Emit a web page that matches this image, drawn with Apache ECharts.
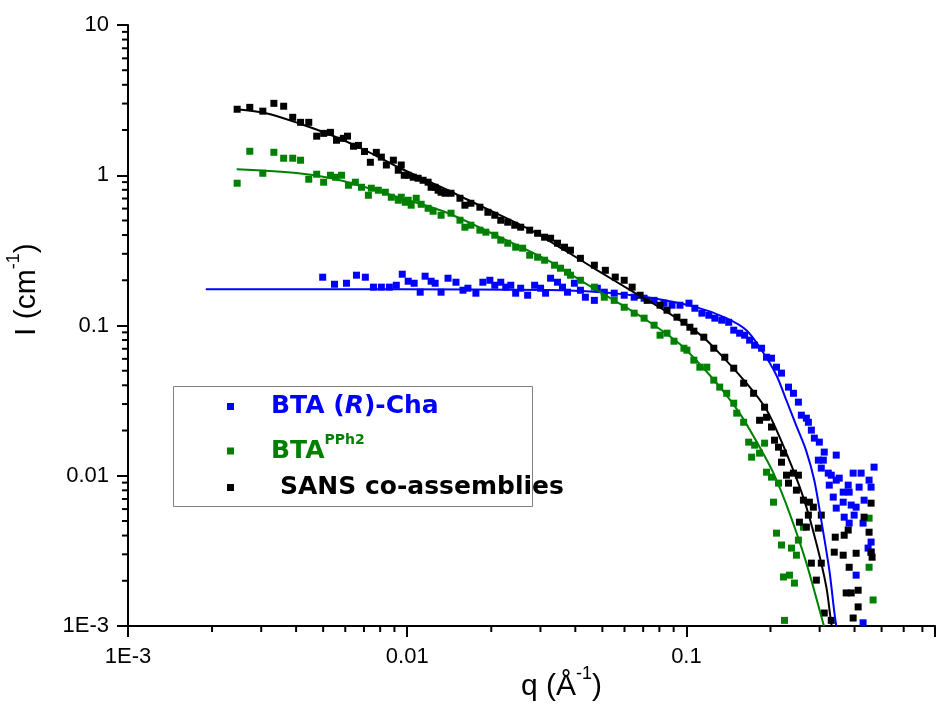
<!DOCTYPE html>
<html><head><meta charset="utf-8">
<script src="https://cdn.jsdelivr.net/npm/echarts@6/dist/echarts.min.js"></script>
<style>html,body{margin:0;padding:0;background:#fff}#c{width:938px;height:704px}</style>
</head><body><div id="c"></div>
<script>
// ---- axes ----
const X_MIN = 0.001, X_MAX = 0.7767;
const Y_MIN = 0.001, Y_MAX = 10;
const xMinorTicks = [0.002,0.003,0.004,0.005,0.006,0.007,0.008,0.009,
  0.02,0.03,0.04,0.05,0.06,0.07,0.08,0.09, 0.2,0.3,0.4,0.5,0.6,0.7];
const yMinorTicks = [0.002,0.003,0.004,0.005,0.006,0.007,0.008,0.009,
  0.02,0.03,0.04,0.05,0.06,0.07,0.08,0.09, 0.2,0.3,0.4,0.5,0.6,0.7,0.8,0.9,
  2,3,4,5,6,7,8,9];

// ---- data [q, I] ----
const bluePoints = [
[0.00498,0.2096],[0.00549,0.1882],[0.00606,0.1911],[0.00658,0.2162],[0.00708,0.2096],[0.00757,0.180],
[0.00808,0.180],[0.00863,0.180],[0.00914,0.1853],[0.00960,0.2195],[0.01008,0.1971],[0.01059,0.1911],
[0.01113,0.1666],[0.01159,0.2129],[0.01218,0.1971],[0.01259,0.1911],[0.01322,0.1666],[0.01400,0.2064],
[0.01495,0.1941],[0.01584,0.1717],[0.01650,0.1771],[0.01762,0.1641],[0.01866,0.1941],[0.01977,0.200],
[0.02059,0.1853],[0.02163,0.1941],[0.02254,0.180],[0.02349,0.1853],[0.02446,0.1641],[0.02549,0.1771],
[0.02700,0.1591],[0.02860,0.1853],[0.03004,0.1771],[0.03130,0.1641],[0.03262,0.2064],[0.03454,0.1941],
[0.03598,0.180],[0.03750,0.1666],[0.03970,0.1911],[0.04172,0.1717],[0.04346,0.1543],[0.04680,0.147],
[0.04796,0.1771],[0.05080,0.1666],[0.05514,0.1641],[0.05986,0.1591],[0.06499,0.1543],[0.07054,0.1519],
[0.07657,0.147],[0.08315,0.1408],[0.08878,0.1365],[0.09480,0.1365],[0.1021,0.1408],[0.1072,0.1303],
[0.1136,0.1208],[0.1203,0.1171],[0.1264,0.1119],[0.1338,0.1085],[0.1417,0.1051],[0.1477,0.0931],
[0.1551,0.0889],[0.1616,0.0862],[0.1684,0.0799],[0.1755,0.0740],[0.1858,0.0706],[0.1936,0.0615],
[0.2017,0.0606],[0.2102,0.0528],[0.2190,0.0482],[0.2320,0.0389],[0.2417,0.0354],[0.2518,0.0309],
[0.2580,0.0253],[0.2689,0.02417],[0.2734,0.0227],[0.2802,0.02012],[0.2872,0.01780],[0.2992,0.01674],
[0.3116,0.01437],[0.2968,0.01270],[0.3092,0.01270],[0.3440,0.01372],[0.3041,0.01124],[0.3221,0.01041],
[0.3302,0.01009],[0.3526,0.00964],[0.3440,0.00935],[0.3248,0.00866],[0.3796,0.00866],[0.4154,0.00840],
[0.3955,0.01041],[0.4223,0.01041],[0.4510,0.00935],[0.4699,0.01141],[0.4585,0.00840],[0.3643,0.00778],
[0.3827,0.00778],[0.3356,0.00721],[0.3643,0.00667],[0.3892,0.00638],[0.4053,0.00618],[0.4328,0.00688],
[0.3440,0.00609],[0.3673,0.00530],[0.3987,0.00547],[0.3827,0.00484],[0.4292,0.00484],[0.4585,0.00362],
[0.4473,0.00330],[0.4585,0.00310],[0.4053,0.00218],[0.4292,0.00105]
];
const greenPoints = [
[0.00246,0.885],[0.00273,1.444],[0.00304,1.031],[0.00333,1.422],[0.00361,1.298],[0.00389,1.298],
[0.00415,1.259],[0.00444,0.941],[0.00474,1.016],[0.00502,0.899],[0.00531,1.000],[0.00554,0.970],
[0.00582,1.000],[0.00616,0.858],[0.00652,0.899],[0.00686,0.832],[0.00726,0.736],[0.00744,0.820],
[0.00788,0.795],[0.00835,0.771],[0.00877,0.714],[0.00929,0.682],[0.00952,0.714],[0.00984,0.661],
[0.01008,0.682],[0.01033,0.632],[0.01077,0.703],[0.01122,0.641],[0.01188,0.603],[0.01238,0.576],
[0.01322,0.542],[0.01435,0.559],[0.01545,0.502],[0.01609,0.451],[0.01691,0.465],[0.01821,0.431],
[0.01913,0.418],[0.02059,0.399],[0.02163,0.370],[0.02291,0.353],[0.02446,0.332],[0.02591,0.327],
[0.02745,0.2936],[0.02931,0.2848],[0.03105,0.272],[0.03370,0.252],[0.03540,0.2406],[0.03750,0.2263],
[0.03843,0.2162],[0.04172,0.200],[0.04680,0.180],[0.05080,0.1543],[0.05514,0.147],[0.05986,0.1323],
[0.06499,0.1208],[0.07054,0.1119],[0.07657,0.1005],[0.08045,0.0862],[0.08521,0.0889],[0.09024,0.0786],
[0.09797,0.0706],[0.1004,0.0685],[0.1063,0.0588],[0.1117,0.0528],[0.1183,0.0528],[0.1253,0.0433],
[0.1316,0.0389],[0.1394,0.0354],[0.1477,0.0304],[0.1514,0.0261],[0.1603,0.0227],[0.1671,0.01674],
[0.1712,0.01330],[0.1755,0.01599],[0.1828,0.01414],[0.1905,0.01648],[0.1936,0.01056],[0.2017,0.00979],
[0.2051,0.00667],[0.2102,0.00415],[0.2137,0.00893],[0.2190,0.00346],[0.2226,0.00212],[0.2245,0.00109],
[0.2339,0.00218],[0.2378,0.00330],[0.2437,0.00193],[0.2477,0.00296],[0.2518,0.00373],[0.2624,0.00455],
[0.4510,0.00522],[0.4510,0.00246],[0.4662,0.00149]
];
const blackPoints = [
[0.00246,2.75],[0.00273,2.83],[0.00304,2.67],[0.00333,3.01],[0.00361,2.88],[0.00389,2.43],
[0.00415,2.25],[0.00444,2.25],[0.00474,1.82],[0.00502,1.90],[0.00531,1.93],[0.00558,1.71],
[0.00591,1.76],[0.00611,1.82],[0.00642,1.56],[0.00669,1.58],[0.00703,1.44],[0.00738,1.22],
[0.00775,1.42],[0.00808,1.32],[0.00842,1.17],[0.00892,1.26],[0.00929,1.08],[0.00952,1.17],
[0.00976,1.00],[0.01008,1.00],[0.01051,0.970],[0.01094,0.955],[0.01140,0.926],[0.01188,0.899],
[0.01218,0.832],[0.01259,0.832],[0.01290,0.795],[0.01322,0.771],[0.01366,0.759],[0.01435,0.759],
[0.01545,0.703],[0.01609,0.632],[0.01691,0.651],[0.01821,0.613],[0.01945,0.567],[0.02059,0.542],
[0.02163,0.502],[0.02291,0.487],[0.02427,0.465],[0.02549,0.451],[0.02745,0.431],[0.02931,0.411],
[0.03105,0.387],[0.03262,0.381],[0.03454,0.353],[0.03658,0.332],[0.03843,0.317],[0.04172,0.280],
[0.04680,0.252],[0.05124,0.233],[0.05560,0.210],[0.05986,0.200],[0.06392,0.180],[0.06826,0.159],
[0.07232,0.147],[0.08045,0.1365],[0.08521,0.1264],[0.09250,0.1136],[0.09797,0.1051],[0.1029,0.0974],
[0.1063,0.0917],[0.1154,0.0836],[0.1253,0.0706],[0.1372,0.0615],[0.1477,0.0520],[0.1603,0.0413],
[0.1740,0.0354],[0.1828,0.0234],[0.1905,0.0286],[0.1936,0.0245],[0.2017,0.0211],[0.2068,0.01725],
[0.2137,0.0155],[0.2190,0.01231],[0.2226,0.01414],[0.2282,0.01009],[0.2320,0.00893],[0.2417,0.01041],
[0.2477,0.00802],[0.2518,0.01009],[0.2539,0.00491],[0.2624,0.00688],[0.2689,0.00455],[0.2734,0.00547],
[0.2757,0.00667],[0.2802,0.00262],[0.2848,0.00618],[0.2920,0.00202],[0.2968,0.00448],[0.3041,0.00547],
[0.3041,0.00262],[0.3116,0.00122],[0.3302,0.00109],[0.3384,0.00310],[0.3412,0.00390],[0.3643,0.00296],
[0.3673,0.00402],[0.3734,0.00166],[0.3796,0.00435],[0.3827,0.00246],[0.3892,0.00166],[0.3955,0.00113],
[0.4053,0.00305],[0.4121,0.00173],[0.4121,0.00134],[0.4328,0.00530],[0.4510,0.00421],[0.4585,0.00657],
[0.4585,0.00310],[0.4623,0.00287]
];
// ---- fit curves [q, I] ----
const blueFit = [
[0.0019,0.174],[0.00929,0.174],[0.0318,0.172],[0.048,0.167],[0.0723,0.154],[0.109,0.132],
[0.139,0.112],[0.164,0.093],[0.186,0.0684],[0.210,0.0467],[0.228,0.0318],[0.247,0.0217],
[0.268,0.0148],[0.287,0.00933],[0.304,0.00506],[0.325,0.00235],[0.338,0.00127],[0.344,0.001]
];
const blackFit = [
[0.00245,2.75],[0.00312,2.585],[0.00408,2.22],[0.00536,1.845],[0.00708,1.466],[0.00929,1.13],
[0.0140,0.795],[0.0161,0.70],[0.0277,0.431],[0.0366,0.317],[0.0480,0.233],[0.0629,0.172],
[0.0832,0.1265],[0.109,0.0903],[0.125,0.0718],[0.164,0.0413],[0.194,0.0273],[0.228,0.01416],
[0.262,0.00721],[0.292,0.00356],[0.317,0.00182],[0.330,0.00104],[0.332,0.001]
];
const greenFit = [
[0.00245,1.096],[0.00408,1.031],[0.00536,0.955],[0.00708,0.832],[0.00929,0.714],[0.0140,0.559],
[0.0211,0.393],[0.0318,0.272],[0.0417,0.200],[0.0551,0.147],[0.0723,0.108],[0.0949,0.0751],
[0.109,0.058],[0.132,0.0388],[0.155,0.0261],[0.183,0.0155],[0.205,0.0104],[0.234,0.00564],
[0.269,0.00262],[0.309,0.00104],[0.311,0.001]
];

const BLUE = '#0000ff', GREEN = '#008000', BLACK = '#000000';
const TICK_FONT = 'Liberation Sans';
const LEG_FONT = 'DejaVu Sans';

function decadeLabel(v) {
  const e = Math.log10(v), r = Math.round(e);
  if (Math.abs(e - r) > 1e-6) return '';
  if (r <= -3) return '1E' + r;
  return String(Number(Math.pow(10, r).toFixed(Math.max(0, -r))));
}
function minorTicks(which) {
  return {
    type: 'custom', silent: true, clip: false, z: 10,
    data: which === 'x' ? xMinorTicks.map(v => [v, Y_MIN]) : yMinorTicks.map(v => [X_MIN, v]),
    renderItem: function (params, api) {
      const p = api.coord([api.value(0), api.value(1)]);
      const shape = which === 'x'
        ? { x1: p[0], y1: p[1], x2: p[0], y2: p[1] + 6 }
        : { x1: p[0], y1: p[1], x2: p[0] - 6, y2: p[1] };
      return { type: 'line', shape: shape, style: { stroke: '#000', lineWidth: 2 } };
    }
  };
}
const axisCommon = {
  type: 'log', logBase: 10,
  axisLine: { show: true, lineStyle: { color: '#000', width: 2 } },
  axisTick: { show: true, length: 11, lineStyle: { color: '#000', width: 2 } },
  minorTick: { show: false },
  splitLine: { show: false },
  axisLabel: { formatter: decadeLabel, color: '#000', fontSize: 22, fontFamily: TICK_FONT }
};
function legendItem(name, top, padLeft, fmt, rich) {
  return {
    data: [name], left: 227, top: top, orient: 'vertical', padding: 0,
    itemWidth: 7, itemHeight: 7, icon: 'rect', selectedMode: false,
    formatter: fmt, textStyle: { padding: [0, 0, 0, padLeft], rich: rich }
  };
}
const legBold = (color, lh) => ({ fontFamily: LEG_FONT, fontWeight: 'bold', fontSize: 25, lineHeight: lh, color: color });
const scatterStyle = color => ({ color: color, opacity: 1 });
const fitLine = (name, color, data) => ({
  name: name, type: 'line', showSymbol: false, smooth: 0.3,
  lineStyle: { color: color, width: 2 }, data: data, z: 3
});

const chart = echarts.init(document.getElementById('c'), null, { renderer: 'canvas' });
chart.setOption({
  animation: false,
  backgroundColor: '#fff',
  grid: { left: 128, right: 0, top: 25, bottom: 78, containLabel: false },
  xAxis: Object.assign({}, axisCommon, {
    min: X_MIN, max: X_MAX,
    axisLabel: Object.assign({}, axisCommon.axisLabel, { margin: 20 })
  }),
  yAxis: Object.assign({}, axisCommon, {
    min: Y_MIN, max: Y_MAX,
    axisLabel: Object.assign({}, axisCommon.axisLabel, { margin: 19 })
  }),
  legend: [
    legendItem('BTA (R)-Cha', 394, 32, '{b|BTA (}{i|R}{b|)-Cha}',
      { b: legBold(BLUE, 26), i: Object.assign(legBold(BLUE, 26), { fontStyle: 'italic' }) }),
    legendItem('BTA PPh2', 433, 32, '{g|BTA}{s|PPh2}',
      { g: legBold(GREEN, 36), s: { fontFamily: LEG_FONT, fontWeight: 'bold', fontSize: 14, lineHeight: 14, verticalAlign: 'top', color: GREEN } }),
    legendItem('SANS co-assemblies', 475, 41, '{k|SANS co-assemblies}', { k: legBold(BLACK, 26) })
  ],
  graphic: [
    { type: 'rect', z: 0, shape: { x: 173.5, y: 386.5, width: 359, height: 120 },
      style: { fill: 'none', stroke: '#808080', lineWidth: 1 } },
    { type: 'text', x: 521, y: 687,
      style: { text: '{m|q (Å}{s|-1}{m|)}', align: 'left', verticalAlign: 'middle',
        rich: { m: { fontFamily: TICK_FONT, fontSize: 30, lineHeight: 44, fill: '#000' },
                s: { fontFamily: TICK_FONT, fontSize: 18, lineHeight: 18, verticalAlign: 'top', fill: '#000' } } } },
    { type: 'text', x: 27, y: 336, rotation: Math.PI / 2,
      style: { text: '{m|I (cm}{s|-1}{m|)}', align: 'left', verticalAlign: 'middle',
        rich: { m: { fontFamily: TICK_FONT, fontSize: 30, lineHeight: 44, fill: '#000' },
                s: { fontFamily: TICK_FONT, fontSize: 18, lineHeight: 18, verticalAlign: 'top', fill: '#000' } } } }
  ],
  series: [
    { name: 'BTA (R)-Cha', type: 'scatter', symbol: 'rect', symbolSize: 7, itemStyle: scatterStyle(BLUE), data: bluePoints, z: 2 },
    { name: 'BTA PPh2', type: 'scatter', symbol: 'rect', symbolSize: 7, itemStyle: scatterStyle(GREEN), data: greenPoints, z: 2 },
    { name: 'SANS co-assemblies', type: 'scatter', symbol: 'rect', symbolSize: 7, itemStyle: scatterStyle(BLACK), data: blackPoints, z: 2 },
    fitLine('fitBlue', BLUE, blueFit),
    fitLine('fitGreen', GREEN, greenFit),
    fitLine('fitBlack', BLACK, blackFit),
    minorTicks('x'),
    minorTicks('y')
  ]
});
</script>
</body></html>
